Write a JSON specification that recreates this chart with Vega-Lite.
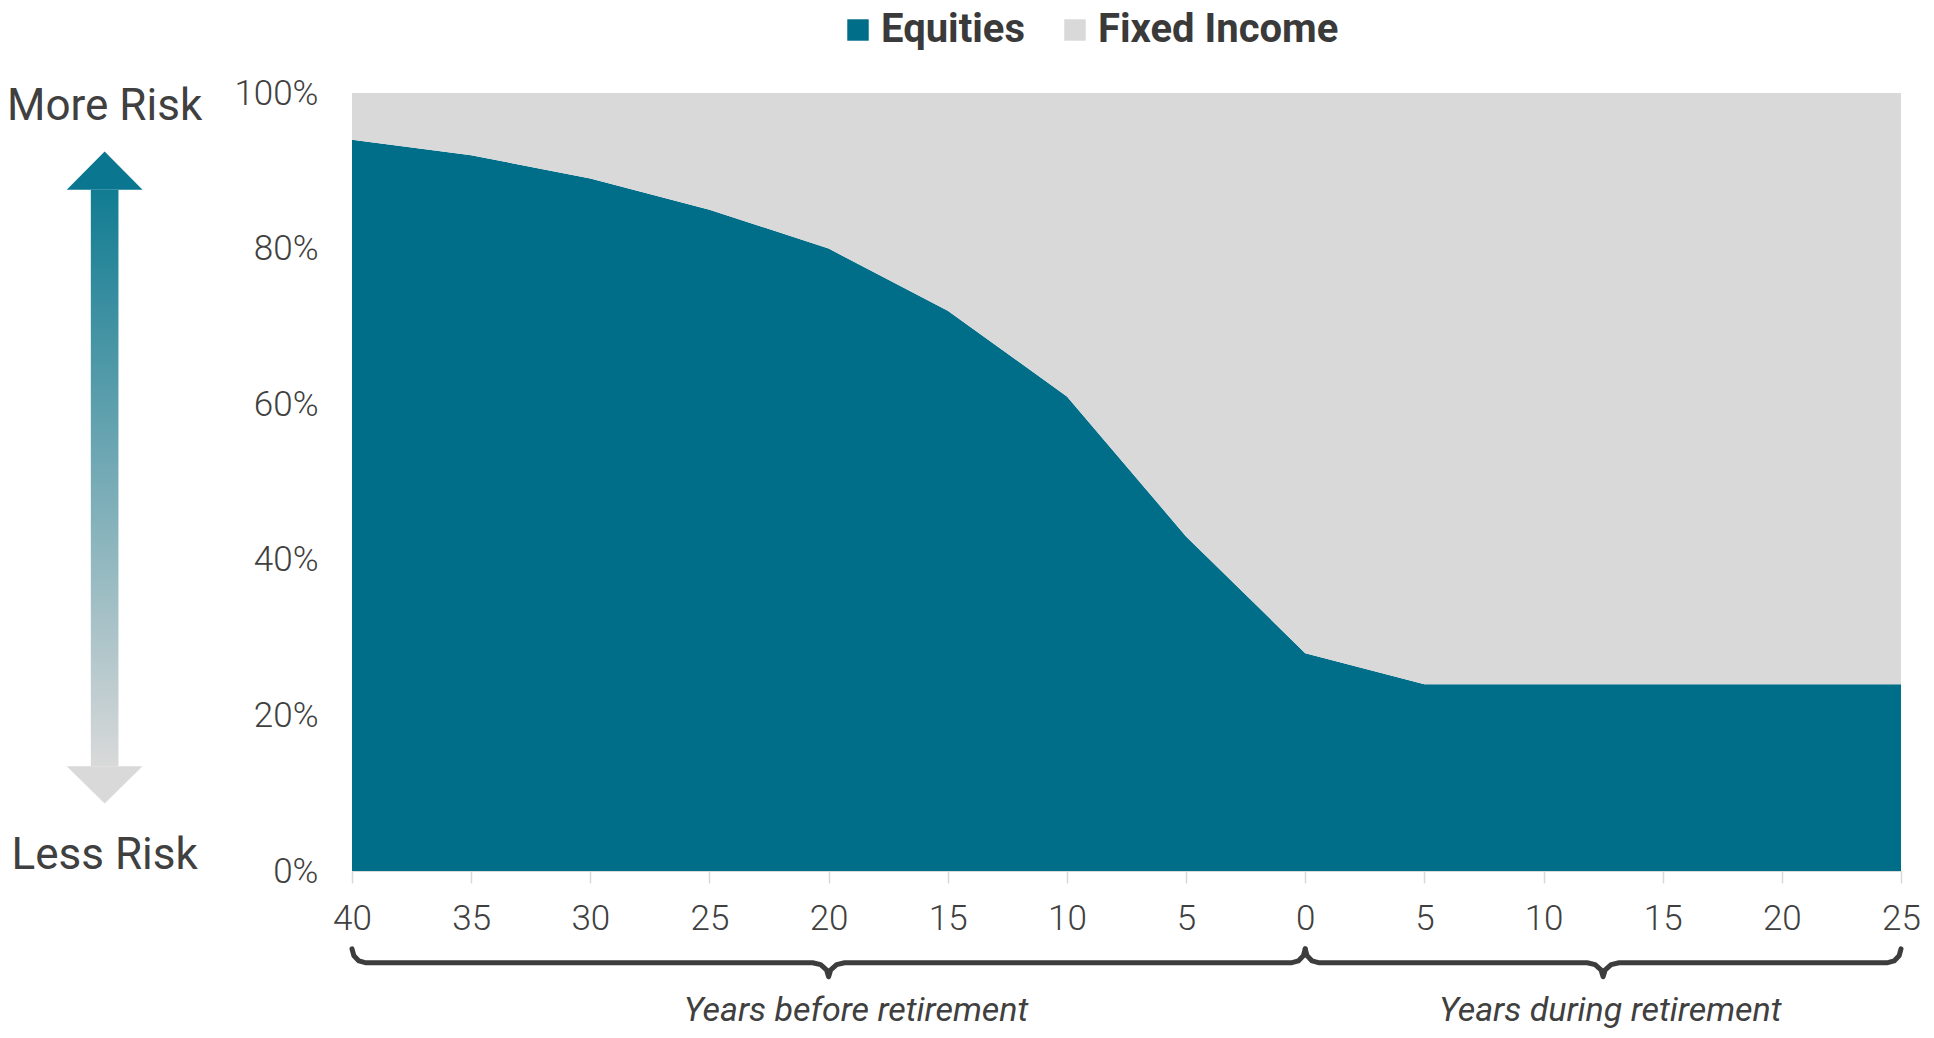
{
  "$schema": "https://vega.github.io/schema/vega-lite/v6.json",
  "width": 1549,
  "height": 778,
  "autosize": "none",
  "padding": {"left": 352, "top": 93, "right": 33, "bottom": 167},
  "background": "white",
  "config": {"view": {"stroke": null}, "font": "Roboto"},
  "datasets": {
    "alloc": [
      {"year": -40, "series": "Equities", "pct": 94}, {"year": -40, "series": "Fixed Income", "pct": 6},
      {"year": -35, "series": "Equities", "pct": 92}, {"year": -35, "series": "Fixed Income", "pct": 8},
      {"year": -30, "series": "Equities", "pct": 89}, {"year": -30, "series": "Fixed Income", "pct": 11},
      {"year": -25, "series": "Equities", "pct": 85}, {"year": -25, "series": "Fixed Income", "pct": 15},
      {"year": -20, "series": "Equities", "pct": 80}, {"year": -20, "series": "Fixed Income", "pct": 20},
      {"year": -15, "series": "Equities", "pct": 72}, {"year": -15, "series": "Fixed Income", "pct": 28},
      {"year": -10, "series": "Equities", "pct": 61}, {"year": -10, "series": "Fixed Income", "pct": 39},
      {"year": -5, "series": "Equities", "pct": 43}, {"year": -5, "series": "Fixed Income", "pct": 57},
      {"year": 0, "series": "Equities", "pct": 28}, {"year": 0, "series": "Fixed Income", "pct": 72},
      {"year": 5, "series": "Equities", "pct": 24}, {"year": 5, "series": "Fixed Income", "pct": 76},
      {"year": 10, "series": "Equities", "pct": 24}, {"year": 10, "series": "Fixed Income", "pct": 76},
      {"year": 15, "series": "Equities", "pct": 24}, {"year": 15, "series": "Fixed Income", "pct": 76},
      {"year": 20, "series": "Equities", "pct": 24}, {"year": 20, "series": "Fixed Income", "pct": 76},
      {"year": 25, "series": "Equities", "pct": 24}, {"year": 25, "series": "Fixed Income", "pct": 76}
    ],
    "shaft": [
      {"sx": -50.96, "sx2": -49.8, "sy": 87.56, "sy2": 13.48}
    ],
    "heads": [
      {"head": "up", "hx": -51.97, "hy": 87.56, "hy2": 87.56},
      {"head": "up", "hx": -50.38, "hy": 92.49, "hy2": 87.56},
      {"head": "up", "hx": -48.79, "hy": 87.56, "hy2": 87.56},
      {"head": "down", "hx": -51.97, "hy": 13.48, "hy2": 13.48},
      {"head": "down", "hx": -50.38, "hy": 8.68, "hy2": 13.48},
      {"head": "down", "hx": -48.79, "hy": 13.48, "hy2": 13.48}
    ],
    "brace": [
      {"part": "before", "seq": 1, "bx": -40, "by": -10},
      {"part": "before", "seq": 2, "bx": -39.92, "by": -10.9},
      {"part": "before", "seq": 3, "bx": -39.71, "by": -11.56},
      {"part": "before", "seq": 4, "bx": -39.41, "by": -11.8},
      {"part": "before", "seq": 5, "bx": -20.67, "by": -11.8},
      {"part": "before", "seq": 6, "bx": -20.335, "by": -12.04},
      {"part": "before", "seq": 7, "bx": -20.09, "by": -12.7},
      {"part": "before", "seq": 8, "bx": -20, "by": -13.6},
      {"part": "before", "seq": 9, "bx": -19.91, "by": -12.7},
      {"part": "before", "seq": 10, "bx": -19.665, "by": -12.04},
      {"part": "before", "seq": 11, "bx": -19.33, "by": -11.8},
      {"part": "before", "seq": 12, "bx": -0.59, "by": -11.8},
      {"part": "before", "seq": 13, "bx": -0.29, "by": -11.56},
      {"part": "before", "seq": 14, "bx": -0.08, "by": -10.9},
      {"part": "before", "seq": 15, "bx": 0, "by": -10},
      {"part": "during", "seq": 1, "bx": 0, "by": -10},
      {"part": "during", "seq": 2, "bx": 0.08, "by": -10.9},
      {"part": "during", "seq": 3, "bx": 0.29, "by": -11.56},
      {"part": "during", "seq": 4, "bx": 0.59, "by": -11.8},
      {"part": "during", "seq": 5, "bx": 11.83, "by": -11.8},
      {"part": "during", "seq": 6, "bx": 12.165, "by": -12.04},
      {"part": "during", "seq": 7, "bx": 12.41, "by": -12.7},
      {"part": "during", "seq": 8, "bx": 12.5, "by": -13.6},
      {"part": "during", "seq": 9, "bx": 12.59, "by": -12.7},
      {"part": "during", "seq": 10, "bx": 12.835, "by": -12.04},
      {"part": "during", "seq": 11, "bx": 13.17, "by": -11.8},
      {"part": "during", "seq": 12, "bx": 24.41, "by": -11.8},
      {"part": "during", "seq": 13, "bx": 24.71, "by": -11.56},
      {"part": "during", "seq": 14, "bx": 24.92, "by": -10.9},
      {"part": "during", "seq": 15, "bx": 25, "by": -10}
    ],
    "periods": [
      {"label": "Years before retirement", "tx": -18.85, "ty": -19.25},
      {"label": "Years during retirement", "tx": 12.8, "ty": -19.25}
    ],
    "risk": [
      {"label": "More Risk", "tx": -50.38, "ty": 96.57},
      {"label": "Less Risk", "tx": -50.38, "ty": 0.32}
    ]
  },
  "layer": [
    {
      "data": {"name": "alloc"},
      "mark": {"type": "area", "interpolate": "linear"},
      "encoding": {
        "x": {
          "field": "year", "type": "quantitative",
          "scale": {"domain": [-40, 25], "nice": false, "zero": false},
          "axis": {
            "values": [-40, -35, -30, -25, -20, -15, -10, -5, 0, 5, 10, 15, 20, 25],
            "labelExpr": "'' + abs(datum.value)",
            "title": null, "grid": false,
            "domain": true, "domainColor": "#D9D9D9", "domainWidth": 1,
            "ticks": true, "tickColor": "#D9D9D9", "tickWidth": 1.5, "tickSize": 12,
            "labelFont": "Roboto", "labelFontSize": 35, "labelFontWeight": 300,
            "labelColor": "#404040", "labelPadding": 18, "labelFlush": false, "labelOverlap": false
          }
        },
        "y": {
          "field": "pct", "type": "quantitative", "stack": "zero",
          "scale": {"domain": [0, 100], "nice": false},
          "axis": {
            "values": [0, 20, 40, 60, 80, 100],
            "labelExpr": "datum.value + '%'",
            "title": null, "grid": false, "domain": false, "ticks": false, "tickSize": 0,
            "labelFont": "Roboto", "labelFontSize": 35, "labelFontWeight": 300,
            "labelColor": "#404040", "labelPadding": 34
          }
        },
        "color": {
          "field": "series", "type": "nominal",
          "scale": {"domain": ["Equities", "Fixed Income"], "range": ["#006D89", "#D9D9D9"]},
          "legend": {
            "title": null, "orient": "none", "legendX": 486, "legendY": -83,
            "direction": "horizontal", "symbolType": "square", "symbolSize": 460,
            "symbolStrokeWidth": 0, "labelFont": "Roboto", "labelFontSize": 40,
            "labelFontWeight": "bold", "labelColor": "#3A3A3A", "labelOffset": 3,
            "columnPadding": 30, "padding": 0, "labelLimit": 500
          }
        },
        "order": {"field": "series", "type": "nominal", "sort": "ascending"}
      }
    },
    {
      "data": {"name": "shaft"},
      "mark": {
        "type": "rect",
        "color": {
          "gradient": "linear", "x1": 0, "y1": 0, "x2": 0, "y2": 1,
          "stops": [
            {"offset": 0, "color": "#117C92"},
            {"offset": 1, "color": "#D9D9D9"}
          ]
        }
      },
      "encoding": {
        "x": {"field": "sx", "type": "quantitative", "scale": {"domain": [-40, 25], "nice": false, "zero": false}},
        "x2": {"field": "sx2"},
        "y": {"field": "sy", "type": "quantitative", "scale": {"domain": [0, 100], "nice": false}},
        "y2": {"field": "sy2"}
      }
    },
    {
      "data": {"name": "heads"},
      "transform": [{"filter": "datum.head == 'up'"}],
      "mark": {"type": "area", "interpolate": "linear", "color": "#0A7690"},
      "encoding": {
        "x": {"field": "hx", "type": "quantitative", "scale": {"domain": [-40, 25], "nice": false, "zero": false}},
        "y": {"field": "hy", "type": "quantitative", "scale": {"domain": [0, 100], "nice": false}},
        "y2": {"field": "hy2"}
      }
    },
    {
      "data": {"name": "heads"},
      "transform": [{"filter": "datum.head == 'down'"}],
      "mark": {"type": "area", "interpolate": "linear", "color": "#D9D9D9"},
      "encoding": {
        "x": {"field": "hx", "type": "quantitative", "scale": {"domain": [-40, 25], "nice": false, "zero": false}},
        "y": {"field": "hy", "type": "quantitative", "scale": {"domain": [0, 100], "nice": false}},
        "y2": {"field": "hy2"}
      }
    },
    {
      "data": {"name": "brace"},
      "mark": {"type": "line", "interpolate": "linear", "color": "#3D3D3D", "strokeWidth": 5, "strokeCap": "round", "strokeJoin": "round"},
      "encoding": {
        "x": {"field": "bx", "type": "quantitative", "scale": {"domain": [-40, 25], "nice": false, "zero": false}},
        "y": {"field": "by", "type": "quantitative", "scale": {"domain": [0, 100], "nice": false}},
        "detail": {"field": "part", "type": "nominal"},
        "order": {"field": "seq", "type": "quantitative"}
      }
    },
    {
      "data": {"name": "periods"},
      "mark": {"type": "text", "align": "center", "baseline": "alphabetic", "font": "Roboto", "fontSize": 34, "fontStyle": "italic", "fontWeight": "normal", "color": "#404040"},
      "encoding": {
        "x": {"field": "tx", "type": "quantitative", "scale": {"domain": [-40, 25], "nice": false, "zero": false}},
        "y": {"field": "ty", "type": "quantitative", "scale": {"domain": [0, 100], "nice": false}},
        "text": {"field": "label"}
      }
    },
    {
      "data": {"name": "risk"},
      "mark": {"type": "text", "align": "center", "baseline": "alphabetic", "font": "Roboto", "fontSize": 44, "fontWeight": "normal", "color": "#404040"},
      "encoding": {
        "x": {"field": "tx", "type": "quantitative", "scale": {"domain": [-40, 25], "nice": false, "zero": false}},
        "y": {"field": "ty", "type": "quantitative", "scale": {"domain": [0, 100], "nice": false}},
        "text": {"field": "label"}
      }
    }
  ]
}
